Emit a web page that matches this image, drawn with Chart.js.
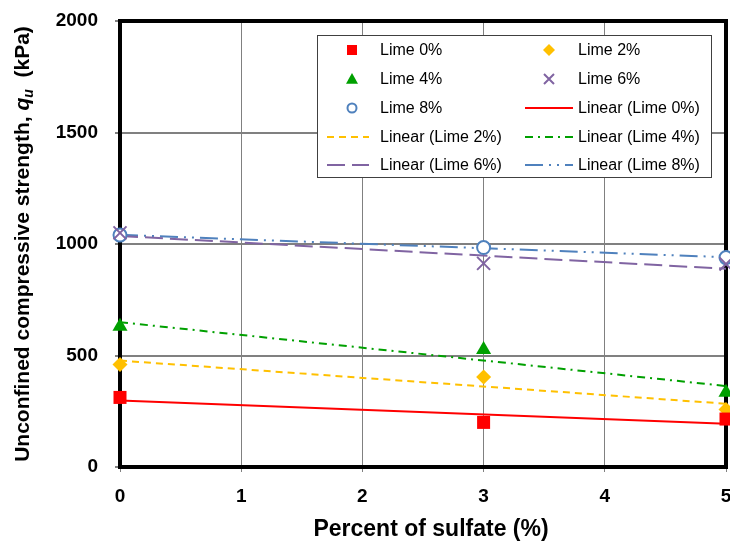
<!DOCTYPE html>
<html>
<head>
<meta charset="utf-8">
<script src="https://cdn.jsdelivr.net/npm/chart.js@4"></script>
<style>
  html, body { margin: 0; padding: 0; background: #fff; }
  canvas { display: block; }
</style>
</head>
<body>
<canvas id="chart" width="730" height="545"></canvas>
<script>
// Unconfined compressive strength (kPa) against sulfate content (%)
const sulfate = [0, 3, 5];
const lime0 = [312, 200, 215];
const lime2 = [460, 404, 258];
const lime4 = [630, 526, 334];
const lime6 = [1050, 913, 910];
const lime8 = [1040, 984, 939];
const seriesNames = ['Lime 0%', 'Lime 2%', 'Lime 4%', 'Lime 6%', 'Lime 8%'];
const yTickValues = [0, 500, 1000, 1500, 2000];
const xTickValues = [0, 1, 2, 3, 4, 5];

const FONT = "'Liberation Sans', Arial, Helvetica, sans-serif";

// marker and trend-line appearance per series
const styles = [
  { color: '#FF0000', point: 'rect',     radius: 9.2, fill: true,  dash: [] },
  { color: '#FFC000', point: 'rectRot',  radius: 7.5, fill: true,  dash: [7, 5] },
  { color: '#00A000', point: 'triangle', radius: 8.7, fill: true,  dash: [8, 5, 2, 5] },
  { color: '#8064A2', point: 'crossRot', radius: 9.2, fill: false, dash: [18, 7] },
  { color: '#4F81BD', point: 'circle',   radius: 6.5, fill: false, dash: [18, 6, 2, 6, 2, 6] }
];

const seriesValues = [lime0, lime2, lime4, lime6, lime8];

// least-squares straight line through a series
function linearFit(xs, ys) {
  const n = xs.length;
  const mx = xs.reduce((a, b) => a + b, 0) / n;
  const my = ys.reduce((a, b) => a + b, 0) / n;
  let sxy = 0, sxx = 0;
  for (let i = 0; i < n; i++) {
    sxy += (xs[i] - mx) * (ys[i] - my);
    sxx += (xs[i] - mx) * (xs[i] - mx);
  }
  const slope = sxy / sxx;
  return { slope, intercept: my - slope * mx };
}

const xMin = xTickValues[0], xMax = xTickValues[xTickValues.length - 1];

const markerSets = seriesValues.map((vals, i) => ({
  label: seriesNames[i],
  data: sulfate.map((x, j) => ({ x, y: vals[j] })),
  showLine: false,
  pointStyle: styles[i].point,
  pointRadius: styles[i].radius,
  pointHoverRadius: styles[i].radius,
  pointBackgroundColor: styles[i].fill ? styles[i].color : '#FFFFFF',
  pointBorderColor: styles[i].color,
  pointBorderWidth: styles[i].fill ? 0 : 2,
  clip: false,
  order: 1
}));

const trendSets = seriesValues.map((vals, i) => {
  const f = linearFit(sulfate, vals);
  return {
    label: 'Linear (' + seriesNames[i] + ')',
    data: [xMin, xMax].map(x => ({ x, y: f.intercept + f.slope * x })),
    showLine: true,
    borderColor: styles[i].color,
    borderWidth: 2,
    borderDash: styles[i].dash,
    pointRadius: 0,
    fill: false,
    clip: false,
    order: 2
  };
});

// black frame around the plot area
const framePlugin = {
  id: 'frame',
  beforeDatasetsDraw(chart) {
    const { ctx, chartArea: a } = chart;
    ctx.save();
    ctx.strokeStyle = '#000';
    ctx.lineWidth = 4;
    ctx.strokeRect(a.left, a.top, a.right - a.left, a.bottom - a.top);
    ctx.restore();
  }
};

// axis titles (the y title carries an italic q with subscript u)
const titlesPlugin = {
  id: 'axisTitles',
  afterDraw(chart) {
    const { ctx, chartArea: a } = chart;
    ctx.save();
    ctx.fillStyle = '#000';
    // x title
    ctx.font = 'bold 23px ' + FONT;
    ctx.textAlign = 'center';
    ctx.textBaseline = 'alphabetic';
    ctx.fillText('Percent of sulfate (%)', 431, 536);

    // y title, rotated
    const parts = [
      { t: 'Unconfined compressive strength, ', f: 'bold 21px ' + FONT, dy: 0 },
      { t: 'q', f: 'italic bold 21px ' + FONT, dy: 0 },
      { t: 'u', f: 'italic bold 14px ' + FONT, dy: 4 },
      { t: '  (kPa)', f: 'bold 21px ' + FONT, dy: 0 }
    ];
    let total = 0;
    parts.forEach(p => { ctx.font = p.f; p.w = ctx.measureText(p.t).width; total += p.w; });
    ctx.translate(28.5, (a.top + a.bottom) / 2);
    ctx.rotate(-Math.PI / 2);
    ctx.textAlign = 'left';
    let x = -total / 2;
    parts.forEach(p => { ctx.font = p.f; ctx.fillText(p.t, x, p.dy); x += p.w; });
    ctx.restore();
  }
};

function drawMarker(ctx, style, r, x, y) {
  ctx.save();
  ctx.fillStyle = style.fill ? style.color : '#FFFFFF';
  ctx.strokeStyle = style.color;
  ctx.lineWidth = 2;
  ctx.beginPath();
  if (style.point === 'rect') {
    ctx.rect(x - r, y - r, 2 * r, 2 * r);
    ctx.fill();
  } else if (style.point === 'rectRot') {
    ctx.moveTo(x - r, y); ctx.lineTo(x, y - r); ctx.lineTo(x + r, y); ctx.lineTo(x, y + r);
    ctx.closePath(); ctx.fill();
  } else if (style.point === 'triangle') {
    ctx.moveTo(x, y - r); ctx.lineTo(x + r, y + r * 0.8); ctx.lineTo(x - r, y + r * 0.8);
    ctx.closePath(); ctx.fill();
  } else if (style.point === 'crossRot') {
    ctx.moveTo(x - r, y - r); ctx.lineTo(x + r, y + r);
    ctx.moveTo(x + r, y - r); ctx.lineTo(x - r, y + r);
    ctx.stroke();
  } else {
    ctx.arc(x, y, r, 0, Math.PI * 2);
    ctx.fill(); ctx.stroke();
  }
  ctx.restore();
}

// boxed two-column legend inside the plot area
const legendPlugin = {
  id: 'boxLegend',
  afterDraw(chart) {
    const { ctx } = chart;
    const box = { l: 317.5, t: 35.5, r: 711.5, b: 177.5 };
    ctx.save();
    ctx.fillStyle = '#FFFFFF';
    ctx.fillRect(box.l, box.t, box.r - box.l, box.b - box.t);
    ctx.strokeStyle = '#404040';
    ctx.lineWidth = 1;
    ctx.strokeRect(box.l, box.t, box.r - box.l, box.b - box.t);

    const rows = [50, 79, 108, 137, 165];
    const cols = [
      { mark: 352, l0: 327, l1: 369, text: 380 },
      { mark: 549, l0: 525, l1: 573, text: 578 }
    ];
    const markerSizes = [5, 6, 6, 5, 4.5];
    const items = [];
    markerSets.forEach((d, i) => items.push({ label: d.label, kind: 'marker', i }));
    trendSets.forEach((d, i) => items.push({ label: d.label, kind: 'line', i }));
    ctx.font = '16px ' + FONT;
    ctx.textBaseline = 'middle';
    items.forEach((it, k) => {
      const row = rows[Math.floor(k / 2)];
      const col = cols[k % 2];
      const st = styles[it.i];
      if (it.kind === 'marker') {
        drawMarker(ctx, st, markerSizes[it.i], col.mark, row);
      } else {
        ctx.save();
        ctx.strokeStyle = st.color;
        ctx.lineWidth = 2;
        ctx.setLineDash(st.dash);
        ctx.beginPath();
        ctx.moveTo(col.l0, row);
        ctx.lineTo(col.l1, row);
        ctx.stroke();
        ctx.restore();
      }
      ctx.fillStyle = '#000';
      ctx.textAlign = 'left';
      ctx.fillText(it.label, col.text, row + 1);
    });
    ctx.restore();
  }
};

// keep the plot area fixed: no extra room reserved for overhanging tick labels
const ZERO_PAD = { left: 0, top: 0, right: 0, bottom: 0 };
function noOverhang(scale) {
  scale.paddingLeft = 0;
  scale.paddingRight = 0;
  scale.paddingTop = 0;
  scale.paddingBottom = 0;
  scale.getPadding = () => ZERO_PAD;
}

new Chart(document.getElementById('chart'), {
  type: 'scatter',
  data: { datasets: [...markerSets, ...trendSets] },
  options: {
    responsive: false,
    animation: false,
    devicePixelRatio: 1,
    layout: { autoPadding: false, padding: { top: 21, right: 4, left: 0, bottom: 0 } },
    plugins: { legend: { display: false }, tooltip: { enabled: false } },
    scales: {
      x: {
        type: 'linear',
        min: xMin,
        max: xMax,
        afterFit(scale) { scale.height = 78; noOverhang(scale); },
        afterBuildTicks(scale) { scale.ticks = xTickValues.map(v => ({ value: v })); },
        ticks: {
          color: '#000',
          padding: 13,
          callback: v => String(v),
          font: { family: FONT, size: 19, weight: 'bold' }
        },
        grid: { color: '#808080', lineWidth: 1, tickLength: 5, tickColor: '#808080' },
        border: { display: false }
      },
      y: {
        type: 'linear',
        min: yTickValues[0],
        max: yTickValues[yTickValues.length - 1],
        afterFit(scale) { scale.width = 120; noOverhang(scale); },
        afterBuildTicks(scale) { scale.ticks = yTickValues.map(v => ({ value: v })); },
        ticks: {
          color: '#000',
          padding: 17,
          callback: v => String(v),
          font: { family: FONT, size: 19, weight: 'bold' }
        },
        grid: { color: '#808080', lineWidth: 2, tickLength: 5, tickColor: '#808080' },
        border: { display: false }
      }
    }
  },
  plugins: [framePlugin, titlesPlugin, legendPlugin]
});
</script>
</body>
</html>
